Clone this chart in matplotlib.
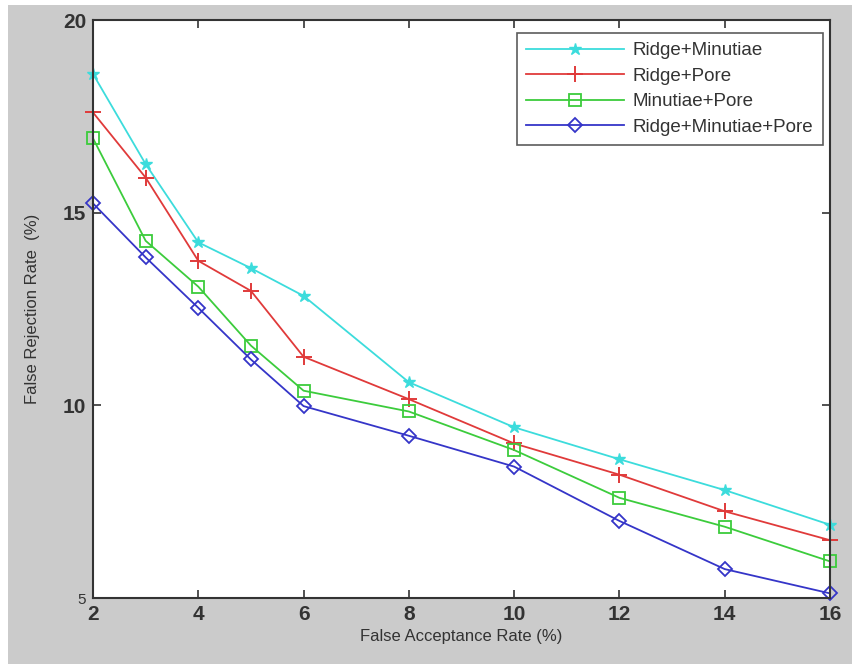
import numpy as np
import matplotlib
matplotlib.use("Agg")
import matplotlib.pyplot as plt
from matplotlib.patches import Rectangle

# data
far = [2, 3, 4, 5, 6, 8, 10, 12, 14, 16]
ridge_minutiae = [18.6, 16.26, 14.23, 13.56, 12.84, 10.6, 9.43, 8.6, 7.8, 6.9]
ridge_pore = [17.6, 15.91, 13.75, 12.97, 11.26, 10.16, 9.01, 8.2, 7.25, 6.5]
minutiae_pore = [16.93, 14.27, 13.08, 11.55, 10.38, 9.84, 8.84, 7.6, 6.85, 5.95]
all_three = [15.24, 13.84, 12.53, 11.19, 9.98, 9.21, 8.41, 7.0, 5.75, 5.12]

series_names = ["Ridge+Minutiae", "Ridge+Pore", "Minutiae+Pore", "Ridge+Minutiae+Pore"]
xticks = [2, 4, 6, 8, 10, 12, 14, 16]
yticks = [5, 10, 15, 20]

plt.rcParams['font.family'] = ['Liberation Sans', 'DejaVu Sans']

fig = plt.figure(figsize=(8.52, 6.64), dpi=100, facecolor="white")
# grey figure panel (MATLAB style) with a thin white margin top/left
fig.patches.append(Rectangle((8/852, 0), 1, 1 - 5/664, transform=fig.transFigure,
                             facecolor="#cbcbcb", edgecolor="none", zorder=-10))

ax = fig.add_axes([93/852, 1 - 598/664, (830 - 93)/852, (598 - 20)/664])
ax.set_facecolor("white")

ax.plot(far, ridge_minutiae, color="#3cdcdc", marker="*", markersize=9, lw=1.3,
        label=series_names[0], clip_on=False)
ax.plot(far, ridge_pore, color="#e03a3a", marker="+", markersize=11, mew=1.4, lw=1.3,
        label=series_names[1], clip_on=False)
ax.plot(far, minutiae_pore, color="#3ccc3c", marker="s", markersize=9, mfc="none",
        mew=1.3, lw=1.3, label=series_names[2], clip_on=False)
ax.plot(far, all_three, color="#3535c8", marker="D", markersize=7.5, mfc="none",
        mew=1.3, lw=1.3, label=series_names[3], clip_on=False)

ax.set_xlim(2, 16)
ax.set_ylim(5, 20)
ax.set_xticks(xticks)
ax.set_yticks(yticks)
ax.tick_params(direction="in", top=True, right=True, length=6, width=1.2,
               colors="#333333", labelsize=15, pad=5)
for lab in ax.get_xticklabels() + ax.get_yticklabels():
    lab.set_fontweight("bold")
    if lab.get_text() == "5":
        lab.set_fontsize(11)
        lab.set_fontweight("normal")
for s in ax.spines.values():
    s.set_linewidth(1.5)
    s.set_color("#333333")

ax.set_xlabel("False Acceptance Rate (%)", fontsize=12, color="#333333", labelpad=4)
ax.set_ylabel("False Rejection Rate  (%)", fontsize=12, color="#333333", labelpad=16)

leg = ax.legend(loc="upper right", fontsize=13.5, frameon=True, fancybox=False,
                bbox_to_anchor=(0.9905, 0.978), borderaxespad=0, handlelength=5.2,
                labelspacing=0.45, borderpad=0.5, handletextpad=0.5)
leg.get_frame().set_edgecolor("#333333")
leg.get_frame().set_linewidth(1.2)
for t in leg.get_texts():
    t.set_color("#333333")

fig.savefig("out.png", dpi=100, facecolor=fig.get_facecolor())
